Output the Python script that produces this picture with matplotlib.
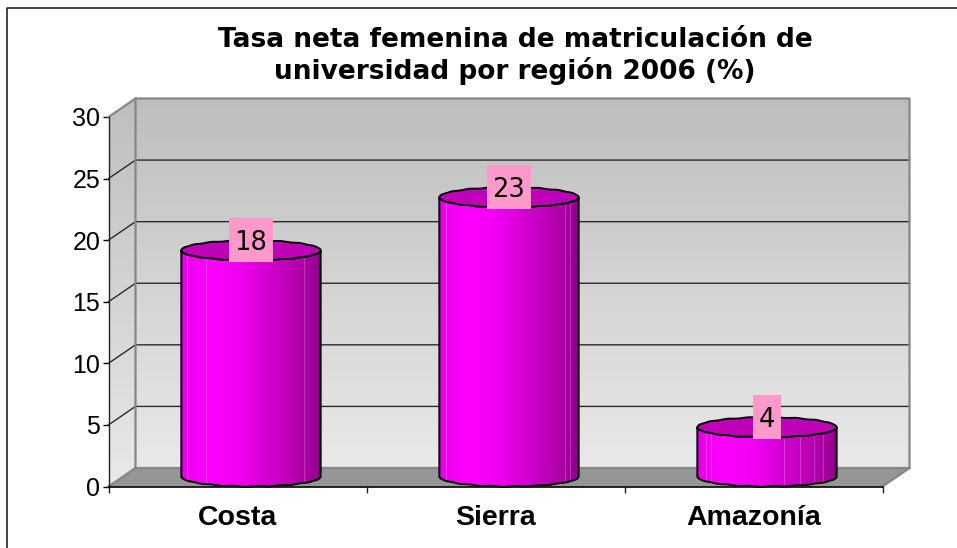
import numpy as np
import matplotlib
matplotlib.use("Agg")
import matplotlib.pyplot as plt
from matplotlib.colors import LinearSegmentedColormap
from matplotlib.lines import Line2D
from matplotlib.patches import Polygon, Rectangle

categories = ["Costa", "Sierra", "Amazonía"]
values = [18.36, 22.67, 4.0]
labels = ["18", "23", "4"]
y_ticks = [0, 5, 10, 15, 20, 25, 30]
title = "Tasa neta femenina de matriculación de\nuniversidad por región 2006 (%)"

W, H = 957, 548
fig = plt.figure(figsize=(W / 100, H / 100), dpi=100, facecolor="white")
L, R, T, B = 108.5, 882.5, 117, 486.5
ax = fig.add_axes([L / W, 1 - B / H, (R - L) / W, (B - T) / H])
ax.set_facecolor("none")

DX = 27 / ((R - L) / 3)     # depth in category units
DY = 18.5 / ((B - T) / 30)  # depth in value units
xmax, ymax = 3, 30

wall_cmap = LinearSegmentedColormap.from_list("wall", ["#BEBEBE", "#E9E9E9"])
grad = np.linspace(0, 1, 256).reshape(-1, 1)
ax.imshow(grad, cmap=wall_cmap, aspect="auto", zorder=1, interpolation="bilinear",
          extent=[DX, xmax + DX, DY, ymax + DY], clip_on=False)
side = ax.imshow(grad, cmap=wall_cmap, aspect="auto", zorder=1, interpolation="bilinear",
                 extent=[0, DX, 0, ymax + DY])
side_poly = Polygon([(0, 0), (DX, DY), (DX, ymax + DY), (0, ymax)], closed=True,
                    transform=ax.transData, fc="none", ec="none", clip_on=False)
ax.add_patch(side_poly)
side.set_clip_path(side_poly)
side.set_clip_box(fig.bbox)

# floor
ax.add_patch(Polygon([(0, 0), (xmax, 0), (xmax + DX, DY), (DX, DY)], closed=True,
                     fc="#969696", ec="none", zorder=2, clip_on=False))

# grid lines on side and back walls
for v in y_ticks[1:-1]:
    ax.plot([0, DX, xmax + DX], [v, v + DY, v + DY], color="#2A2A2A", lw=1.0,
            zorder=2.5, clip_on=False, solid_joinstyle="miter")
# wall borders
edge = "#868686"
ax.plot([0, DX, DX], [0, DY, ymax + DY], color=edge, lw=1.6, zorder=3, clip_on=False)
ax.plot([DX, xmax + DX, xmax + DX, xmax], [DY, DY, DY, 0], color=edge, lw=1.6, zorder=3, clip_on=False)
ax.plot([0, DX, xmax + DX, xmax + DX], [ymax, ymax + DY, ymax + DY, DY], color=edge, lw=1.6,
        zorder=3, clip_on=False)

# cylinders
RX, RY = 0.27, 0.81
body_cmap = LinearSegmentedColormap.from_list(
    "body",
    [(0, "#DC00DC"), (0.05, "#EE00EE"), (0.2, "#FF00FF"), (0.42, "#F000F0"),
     (0.7, "#C800C4"), (0.9, "#AA00A4"), (1, "#8C0088")],
)
hgrad = np.linspace(0, 1, 256).reshape(1, -1)
facets = [[0.04, 0.18, 0.88], [0.05, 0.9, 0.94], [0.06, 0.1, 0.62, 0.74, 0.84, 0.9]]


def ring(cx, cy, theta):
    wobble = 0.03 * np.sin(18 * theta)
    return cx + RX * np.cos(theta), cy + (RY + wobble) * np.sin(theta)


for i, v in enumerate(values):
    cx = i + 0.5 + DX / 2
    y0, y1 = RY, v + RY
    th = np.linspace(np.pi, 2 * np.pi, 61)
    bx, by = ring(cx, y0, th)
    tx, ty = ring(cx, y1, th[::-1])
    body = Polygon(np.column_stack([np.r_[bx, tx], np.r_[by, ty]]), closed=True,
                   fc="none", ec="black", lw=1.4, zorder=5, clip_on=False)
    img = ax.imshow(hgrad, cmap=body_cmap, aspect="auto", zorder=4, interpolation="bilinear",
                    extent=[cx - RX, cx + RX, 0, y1 + RY])
    ax.add_patch(body)
    img.set_clip_path(body)
    img.set_clip_box(fig.bbox)
    for f in facets[i]:
        xf = cx - RX + 2 * RX * f
        yb = y0 - RY * np.sqrt(1 - ((xf - cx) / RX) ** 2)
        yt = y1 - RY * np.sqrt(1 - ((xf - cx) / RX) ** 2)
        ax.plot([xf, xf], [yb, yt], color="white", alpha=0.22, lw=0.8, zorder=4.5, clip_on=False)
    th2 = np.linspace(0, 2 * np.pi, 121)
    ex, ey = ring(cx, y1, th2)
    ax.add_patch(Polygon(np.column_stack([ex, ey]), closed=True, fc="#C000B8", ec="black",
                         lw=1.4, zorder=6, clip_on=False))
    bw = (44 if len(labels[i]) == 2 else 28) / ((R - L) / 3)
    bh = 44 / ((B - T) / 30)
    ly = y1 + RY
    ax.add_patch(Rectangle((cx - bw / 2, ly - bh / 2), bw, bh, fc="#FF99CC", ec="none",
                           zorder=7, clip_on=False))
    ax.text(cx, ly, labels[i], ha="center", va="center_baseline", fontsize=18.5,
            family="DejaVu Sans", color="black", zorder=8, clip_on=False)

ax.set_xlim(0, xmax)
ax.set_ylim(0, ymax)
ax.set_yticks(y_ticks)
ax.set_yticklabels([str(t) for t in y_ticks], family="Liberation Sans", fontsize=18)
ax.set_xticks(range(xmax + 1))
ax.set_xticklabels([])
ax.set_xticks([k + 0.5 for k in range(len(categories))], minor=True)
ax.set_xticklabels(categories, minor=True, family="Liberation Sans", fontweight="bold", fontsize=20.5)
ax.tick_params(axis="y", length=4, width=1, pad=2, color="black")
ax.tick_params(axis="x", which="major", length=4.5, width=1, color="#222222")
ax.tick_params(axis="x", which="minor", length=0, pad=13)
for s in ("top", "right"):
    ax.spines[s].set_visible(False)
ax.spines["left"].set_color("#222222")
ax.spines["left"].set_linewidth(1)
ax.spines["bottom"].set_color("black")
ax.spines["bottom"].set_linewidth(1.2)
for sp in ax.spines.values():
    sp.set_zorder(3.5)

fig.text(515 / W, 1 - 56 / H, title, ha="center", va="center", fontsize=19,
         fontweight="bold", family="DejaVu Sans", linespacing=1.18, color="black")

# chart-area frame: left and top only, reaching the image edge
fig.add_artist(Line2D([7.5 / W, 7.5 / W, 1], [0, 1 - 7.5 / H, 1 - 7.5 / H], color="#111111", lw=1.1))

fig.savefig("out.png", dpi=100, facecolor="white")
